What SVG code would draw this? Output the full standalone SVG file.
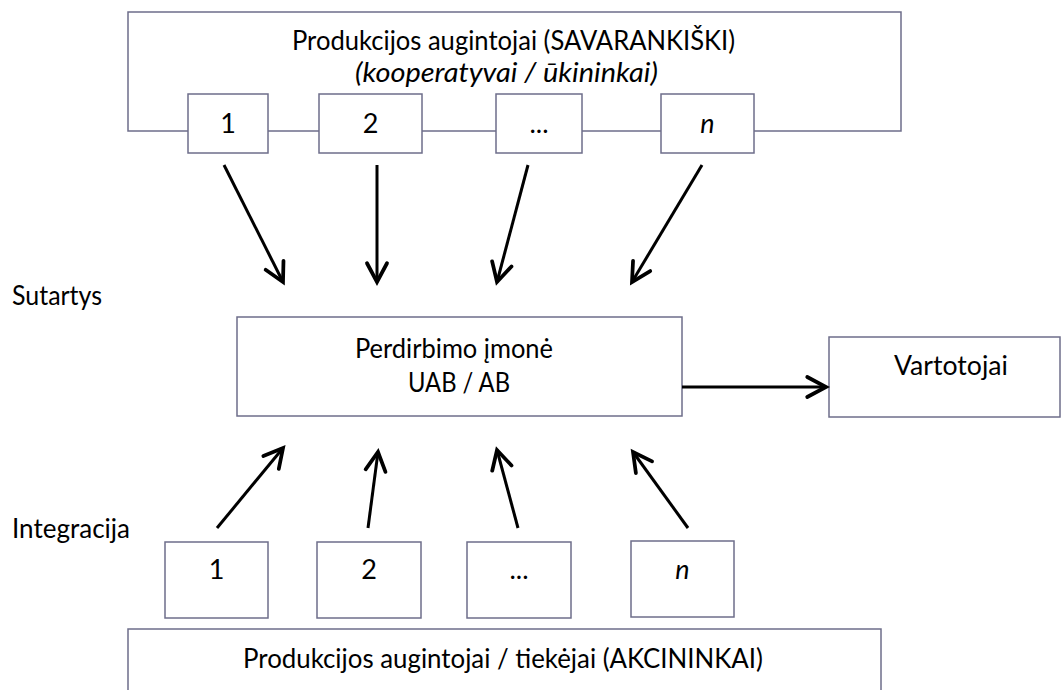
<svg xmlns="http://www.w3.org/2000/svg" width="1061" height="690" viewBox="0 0 1061 690">
  <defs>
    <style>
      .box { fill: #ffffff; stroke: #6e6e8a; stroke-width: 1.5; }
      .frame { fill: none; stroke: #6e6e8a; stroke-width: 1.5; }
      .lbl { font-family: Lato, "Open Sans", sans-serif; font-size: 27px; fill: #000000; }
      .mid { text-anchor: middle; }
      .it { font-style: italic; }
      .conn { stroke: #000000; stroke-width: 3; fill: none; marker-end: url(#open); }
    </style>
    <marker id="open" markerUnits="userSpaceOnUse" markerWidth="30" markerHeight="30" viewBox="-20 -10 24 20" refX="0" refY="0" orient="auto">
      <path d="M-15,-8 L0,0 L-15,8" fill="none" stroke="#000000" stroke-width="3" stroke-linecap="round" stroke-linejoin="miter"/>
    </marker>
  </defs>

  <rect width="1061" height="690" fill="#ffffff"/>

  <!-- independent producers frame with numbered members -->
  <g id="producers-independent">
    <path class="frame" d="M128,12 H901 V131 H128 Z"/>
    <text class="lbl mid" x="513.5" y="50" textLength="443" lengthAdjust="spacingAndGlyphs">Produkcijos augintojai (SAVARANKIŠKI)</text>
    <text class="lbl mid it" x="506.5" y="82" textLength="303" lengthAdjust="spacingAndGlyphs">(kooperatyvai / ūkininkai)</text>
  </g>
  <g id="top-1">
    <rect class="box" x="188" y="94" width="80" height="59"/>
    <text class="lbl mid" x="228" y="133">1</text>
  </g>
  <g id="top-2">
    <rect class="box" x="319" y="94" width="103" height="59"/>
    <text class="lbl mid" x="370.5" y="133">2</text>
  </g>
  <g id="top-etc">
    <rect class="box" x="496" y="94" width="86" height="59"/>
    <text class="lbl mid" x="539" y="133">...</text>
  </g>
  <g id="top-n">
    <rect class="box" x="661" y="94" width="93" height="59"/>
    <text class="lbl mid it" x="707.5" y="133">n</text>
  </g>

  <!-- side labels -->
  <g id="label-sutartys">
    <text class="lbl" x="12" y="305" textLength="90" lengthAdjust="spacingAndGlyphs">Sutartys</text>
  </g>
  <g id="label-integracija">
    <text class="lbl" x="12" y="538" textLength="118" lengthAdjust="spacingAndGlyphs">Integracija</text>
  </g>

  <!-- processing company -->
  <g id="processor">
    <rect class="box" x="237" y="317" width="445" height="99"/>
    <text class="lbl mid" x="454" y="358" textLength="198" lengthAdjust="spacingAndGlyphs">Perdirbimo įmonė</text>
    <text class="lbl mid" x="459" y="392" textLength="102" lengthAdjust="spacingAndGlyphs">UAB / AB</text>
  </g>

  <!-- consumers -->
  <g id="consumers">
    <rect class="box" x="829" y="337" width="231" height="80"/>
    <text class="lbl mid" x="951" y="375" textLength="114" lengthAdjust="spacingAndGlyphs">Vartotojai</text>
  </g>

  <!-- shareholder producers with numbered members -->
  <g id="bottom-1">
    <rect class="box" x="165" y="542" width="103" height="76"/>
    <text class="lbl mid" x="216.5" y="579">1</text>
  </g>
  <g id="bottom-2">
    <rect class="box" x="317" y="542" width="104" height="76"/>
    <text class="lbl mid" x="369" y="579">2</text>
  </g>
  <g id="bottom-etc">
    <rect class="box" x="467" y="542" width="104" height="76"/>
    <text class="lbl mid" x="519" y="579">...</text>
  </g>
  <g id="bottom-n">
    <rect class="box" x="631" y="541" width="103" height="76"/>
    <text class="lbl mid it" x="682.5" y="579">n</text>
  </g>
  <g id="producers-shareholders">
    <rect class="box" x="128" y="629" width="753" height="80"/>
    <text class="lbl mid" x="503" y="668" textLength="520" lengthAdjust="spacingAndGlyphs">Produkcijos augintojai / tiekėjai (AKCININKAI)</text>
  </g>

  <!-- connectors -->
  <g id="connectors">
    <line class="conn" x1="224" y1="165" x2="283" y2="282"/>
    <line class="conn" x1="377" y1="165" x2="377" y2="282"/>
    <line class="conn" x1="528" y1="165" x2="497" y2="282"/>
    <line class="conn" x1="702" y1="165" x2="632" y2="282"/>
    <line class="conn" x1="682" y1="387" x2="826" y2="387"/>
    <line class="conn" x1="217" y1="528" x2="283" y2="448"/>
    <line class="conn" x1="368" y1="528" x2="378" y2="452"/>
    <line class="conn" x1="518" y1="528" x2="497" y2="450"/>
    <line class="conn" x1="688" y1="528" x2="633" y2="452"/>
  </g>
</svg>
